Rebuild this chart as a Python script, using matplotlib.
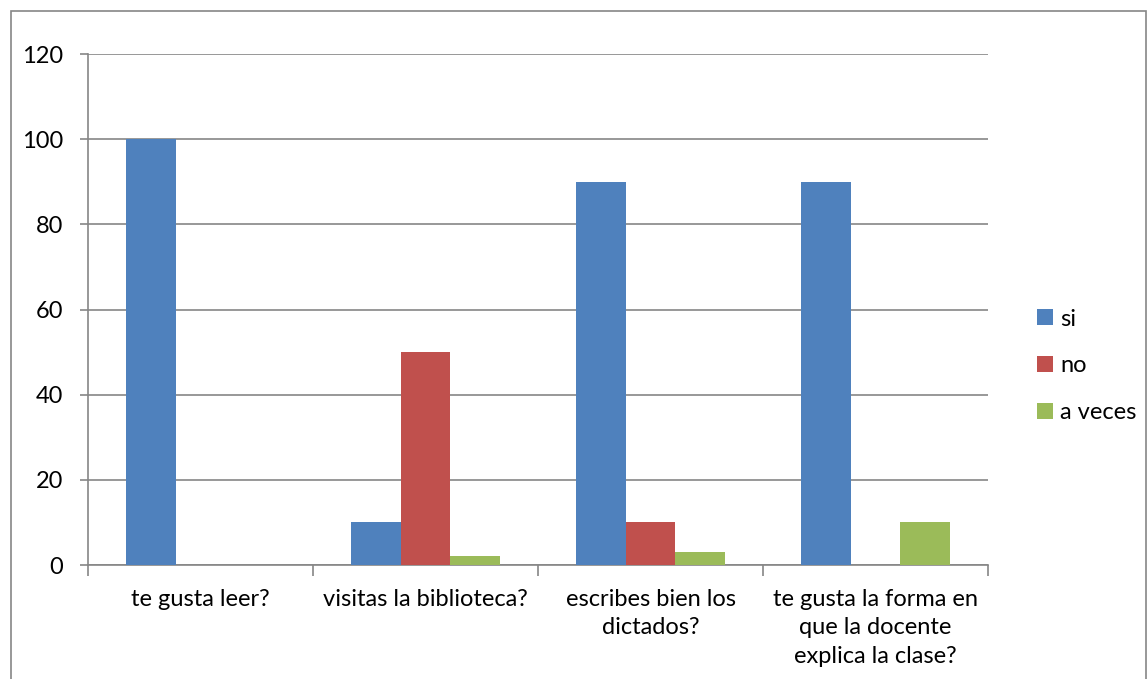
import numpy as np
import matplotlib.pyplot as plt
from matplotlib.patches import Rectangle

categories = ['te gusta leer?', 'visitas la biblioteca?',
              'escribes bien los\ndictados?',
              'te gusta la forma en\nque la docente\nexplica la clase?']
series = ['si', 'no', 'a veces']
si = [100, 10, 90, 90]
no = [0, 50, 10, 0]
a_veces = [0, 2, 3, 10]
colors = ['#4F81BD', '#C0504D', '#9BBB59']
yticks = [0, 20, 40, 60, 80, 100, 120]

plt.rcParams['font.family'] = ['Lato', 'DejaVu Sans']
W, H = 1147, 679
fig = plt.figure(figsize=(W / 100, H / 100), dpi=100)

# chart border
fig.patches.append(Rectangle((11 / W, -0.1), (1146 - 11) / W, 1.1 - 11 / H,
                             transform=fig.transFigure, fill=False,
                             edgecolor='#868686', linewidth=1.2))

ax = fig.add_axes([88 / W, (H - 565) / H, 900 / W, (565 - 54) / H])
x = np.arange(len(categories))
w = 0.2222
for i, (vals, name) in enumerate(zip([si, no, a_veces], series)):
    ax.bar(x + (i - 1) * w, vals, w, color=colors[i], label=name, zorder=3)

ax.set_xlim(-0.5, len(categories) - 0.5)
ax.set_ylim(0, 120)
ax.set_yticks(yticks)
ax.yaxis.grid(True, color='#868686', linewidth=1.2, zorder=0)
for s in ['top', 'right']:
    ax.spines[s].set_visible(False)
for s in ['left', 'bottom']:
    ax.spines[s].set_color('#868686')
    ax.spines[s].set_linewidth(1.2)

ax.set_xticks(np.arange(len(categories) + 1) - 0.5)
ax.set_xticklabels([])
ax.set_xticks(x, minor=True)
ax.set_xticklabels(categories, minor=True, fontsize=17, linespacing=1.45,
                   va='top')
ax.tick_params(axis='x', which='minor', length=0, pad=17)
ax.tick_params(axis='x', which='major', length=8, color='#868686', width=1.2)
ax.tick_params(axis='y', length=6, color='#868686', width=1.2, labelsize=17,
               pad=12)

ax.legend(loc='center left', bbox_to_anchor=(1028 / W, (H - 366) / H),
          bbox_transform=fig.transFigure, borderaxespad=0, frameon=False,
          fontsize=17, handlelength=0.65, handleheight=0.65, handletextpad=0.3,
          labelspacing=1.1)

fig.savefig('out.png', dpi=100)
